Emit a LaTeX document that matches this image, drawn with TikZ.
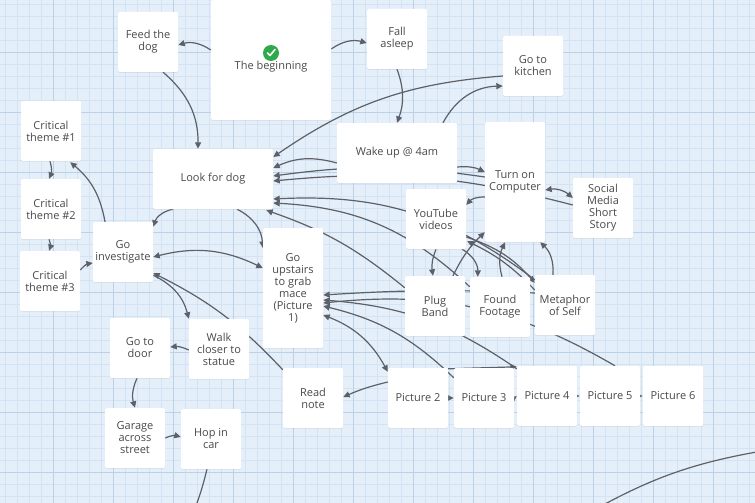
\documentclass[tikz,border=0pt]{standalone}
\usepackage{fontspec}
\setmainfont{Open Sans}
\usetikzlibrary{arrows.meta,calc,shadows}
\definecolor{paper}{HTML}{E5EFFA}
\definecolor{minorline}{HTML}{D4E3F3}
\definecolor{majorline}{HTML}{BAD1E8}
\definecolor{ink}{HTML}{4A4A4A}
\definecolor{linkgray}{HTML}{5D6167}
\definecolor{startgreen}{HTML}{2EAA4A}
\pgfdeclarelayer{grid}
\pgfdeclarelayer{links}
\pgfsetlayers{grid,links,main}
\tikzset{
  passage/.style={fill=white, rounded corners=1.5pt, minimum width=60, minimum height=60,
    inner sep=0pt, align=center, text=ink, font=\fontsize{11}{12}\selectfont,
    drop shadow={shadow xshift=0pt, shadow yshift=-0.8pt, opacity=0.15}},
  widepassage/.style={passage, minimum width=120},
  tallpassage/.style={passage, minimum height=120},
  bigpassage/.style={passage, minimum width=120, minimum height=120},
  gridminor/.style={draw=minorline, line width=0.5pt},
  gridmajor/.style={draw=majorline, line width=0.8pt},
  link/.style={draw=linkgray, line width=1.2pt, -{Triangle[length=6.5pt,width=6pt]}},
  twoway/.style={link, {Triangle[length=6.5pt,width=6pt]}-{Triangle[length=6.5pt,width=6pt]}},
}

\begin{document}
\begin{tikzpicture}[x=1pt,y=-1pt]
  \useasboundingbox (0,0) rectangle (755,503);
  \begin{pgfonlayer}{grid}
    \fill[paper] (0,0) rectangle (755,503);
    \foreach \x in {5,17,...,755}{ \draw[gridminor] (\x,0) -- (\x,503); }
    \foreach \y in {4,16,...,503}{ \draw[gridminor] (0,\y) -- (755,\y); }
    \foreach \x in {53,113,...,755}{ \draw[gridmajor] (\x,0) -- (\x,503); }
    \foreach \y in {52,112,...,503}{ \draw[gridmajor] (0,\y) -- (755,\y); }
  \end{pgfonlayer}

  % passages
  \node[bigpassage] (begin) at (271,60) {};
  \fill[startgreen] ($(begin.center)+(0,-7)$) circle (8);
  \draw[white, line width=1.6pt, line cap=round, line join=round]
    ($(begin.center)+(-3.5,-7)$) -- ($(begin.center)+(-1,-4.5)$) -- ($(begin.center)+(4,-10.5)$);
  \node[text=ink, font=\fontsize{11}{12}\selectfont] (begintxt) at ($(begin.center)+(0,7)$) {The beginning};
  \node[passage] (feed) at (148,42) {Feed the\\dog};
  \node[passage] (fall) at (397,39) {Fall\\asleep};
  \node[passage] (kitchen) at (533,66) {Go to\\kitchen};
  \node[widepassage] (wake) at (397,153) {Wake up @ 4am};
  \node[widepassage] (look) at (213,179) {Look for dog};
  \node[tallpassage] (computer) at (515,182) {Turn on\\Computer};
  \node[passage] (social) at (603,208) {Social\\Media\\Short\\Story};
  \node[passage] (youtube) at (436,219) {YouTube\\videos};
  \node[passage] (plug) at (435,306) {Plug\\Band};
  \node[passage] (found) at (500,307) {Found\\Footage};
  \node[passage] (metaphor) at (565,305) {Metaphor\\of Self};
  \node[passage] (pic2) at (418,398) {Picture 2};
  \node[passage] (pic3) at (484,398) {Picture 3};
  \node[passage] (pic4) at (547,396) {Picture 4};
  \node[passage] (pic5) at (610,396) {Picture 5};
  \node[passage] (pic6) at (673,396) {Picture 6};
  \node[passage] (crit1) at (51,131) {Critical\\theme \#1};
  \node[passage] (crit2) at (51,209) {Critical\\theme \#2};
  \node[passage] (crit3) at (50,281) {Critical\\theme \#3};
  \node[passage] (invest) at (123,252) {Go\\investigate};
  \node[tallpassage] (upstairs) at (293,288) {Go\\upstairs\\to grab\\mace\\(Picture\\1)};
  \node[passage] (door) at (140,348) {Go to\\door};
  \node[passage] (walk) at (219,349) {Walk\\closer to\\statue};
  \node[passage] (garage) at (135,438) {Garage\\across\\street};
  \node[passage] (hopcar) at (211,439) {Hop in\\car};
  \node[passage] (readnote) at (313,398) {Read\\note};
  \coordinate (offcar) at (189,522);
  \coordinate (arcstart) at (585,515);
  \coordinate (arcend) at (768,450);

  % links
  \begin{pgfonlayer}{links}
    \draw[link] ($(begin.west)+(0,-10)$) to[bend right=25] ($(feed.east)+(0,3)$);
    \draw[link] ($(begin.east)+(0,-11)$) to[bend left=25] ($(fall.west)+(0,4)$);
    \draw[link] ($(feed.south)+(15,0)$) to[bend left=25] ($(look.north)+(-15,0)$);
    \draw[link] (fall.south) to[bend left=20] (wake.north);
    \draw[link] ($(kitchen.west)+(0,10)$) to[bend right=15] ($(look.east)+(0,-22)$);
    \draw[link] ($(wake.north)+(46,0)$) to[bend left=30] ($(kitchen.west)+(0,20)$);
    \draw[link] ($(wake.west)+(0,10)$) to[bend right=20] ($(look.east)+(0,-11)$);
    \draw[link] ($(computer.west)+(0,-5)$) to[bend right=8] ($(look.east)+(0,-3)$);
    \draw[link] ($(social.west)+(0,-3)$) to[bend right=10] ($(look.east)+(0,2)$);
    \draw[link] ($(wake.east)+(0,14)$) to[bend left=15] ($(computer.west)+(0,-10)$);
    \draw[link] ($(computer.west)+(0,15)$) to[bend right=25] ($(youtube.east)+(0,-14)$);
    \draw[twoway] ($(computer.east)+(0,8)$) to[bend left=25] ($(social.west)+(0,-10)$);
    \draw[link] ($(look.south)+(-40,0)$) to[bend right=30] ($(invest.north east)+(0,5)$);
    \draw[link] ($(look.south)+(24,0)$) to[bend left=30] ($(upstairs.west)+(0,-40)$);
    \draw[twoway] ($(invest.east)+(0,5)$) to[bend left=20] ($(upstairs.west)+(0,-20)$);
    \draw[link] ($(crit3.east)+(0,-11)$) to[bend left=20] ($(invest.west)+(0,11)$);
    \draw[link] ($(invest.north)+(-18,0)$) to[bend right=20] ($(crit1.south east)+(-11,1)$);
    \draw[link] ($(crit1.south)+(-1,0)$) to[bend left=20] ($(crit2.north)+(-2,0)$);
    \draw[link] ($(crit2.south)+(-2,0)$) to[bend left=20] ($(crit3.north)+(-1,0)$);
    \draw[link] ($(invest.south east)+(0,-7)$) to[bend left=25] (walk.north west);
    \draw[link] ($(walk.west)+(0,1)$) to[bend right=15] ($(door.east)+(0,-1)$);
    \draw[link] ($(door.south)+(-3,0)$) to[bend right=20] (garage.north);
    \draw[link] (garage.east) to[bend left=20] ($(hopcar.west)+(0,-2)$);
    \draw[link] ($(hopcar.south)+(-4,0)$) to[bend left=5] (offcar);
    \draw[link] ($(readnote.north west)+(0,2)$) to[bend right=10] ($(invest.east)+(0,21)$);
    \draw[link] ($(pic2.west)+(0,-16)$) to[bend right=5] ($(readnote.east)+(0,-1)$);
    \draw[twoway] ($(upstairs.east)+(0,27)$) to[bend left=20] ($(pic2.north west)+(0,4)$);
    \draw[link] ($(metaphor.west)+(0,-12)$) to[bend right=3] ($(upstairs.east)+(0,7)$);
    \draw[link] ($(pic4.north west)+(0,3)$) to[bend right=15] ($(upstairs.east)+(0,12)$);
    \draw[link] ($(pic5.north)+(5,0)$) to[bend right=18] ($(upstairs.east)+(0,15)$);
    \draw[link] ($(pic3.north west)+(0,10)$) to[bend right=15] ($(upstairs.east)+(0,18)$);
    \draw[link] ($(metaphor.north west)+(0,5)$) to[bend right=20] ($(look.east)+(0,20)$);
    \draw[link] ($(found.north west)+(0,10)$) to[bend right=20] ($(look.east)+(0,24)$);
    \draw[link] ($(plug.north west)+(0,12)$) to[bend right=10] ($(look.south east)+(-7,1)$);
    \draw[link] (youtube.south) to[bend right=15] ($(plug.north)+(-2,0)$);
    \draw[link] ($(plug.north)+(18,0)$) to[bend left=10] ($(computer.south west)+(0,-10)$);
    \draw[link] ($(youtube.south east)+(-4,0)$) to[bend left=30] ($(found.north west)+(8,0)$);
    \draw[link] ($(youtube.east)+(0,18)$) to[bend left=15] ($(metaphor.north west)+(0,8)$);
    \draw[link] ($(metaphor.west)+(0,-15)$) to[bend right=10] ($(youtube.south east)+(1,-8)$);
    \draw[link] ($(found.north)+(2,0)$) to[bend left=20] ($(computer.south)+(-10,0)$);
    \draw[link] ($(metaphor.north)+(-12,0)$) to[bend right=25] ($(computer.south east)+(-5,0)$);
    \draw[link] ($(pic2.north east)+(0,1)$) -- ($(pic4.north west)+(0,1)$);
    \foreach \a/\b in {pic2/pic3,pic3/pic4,pic4/pic5,pic5/pic6}{
      \draw[link] (\a.east) -- (\b.west);
    }
    \draw[link,-] (arcstart) to[bend left=10] (arcend);
  \end{pgfonlayer}
\end{tikzpicture}
\end{document}
